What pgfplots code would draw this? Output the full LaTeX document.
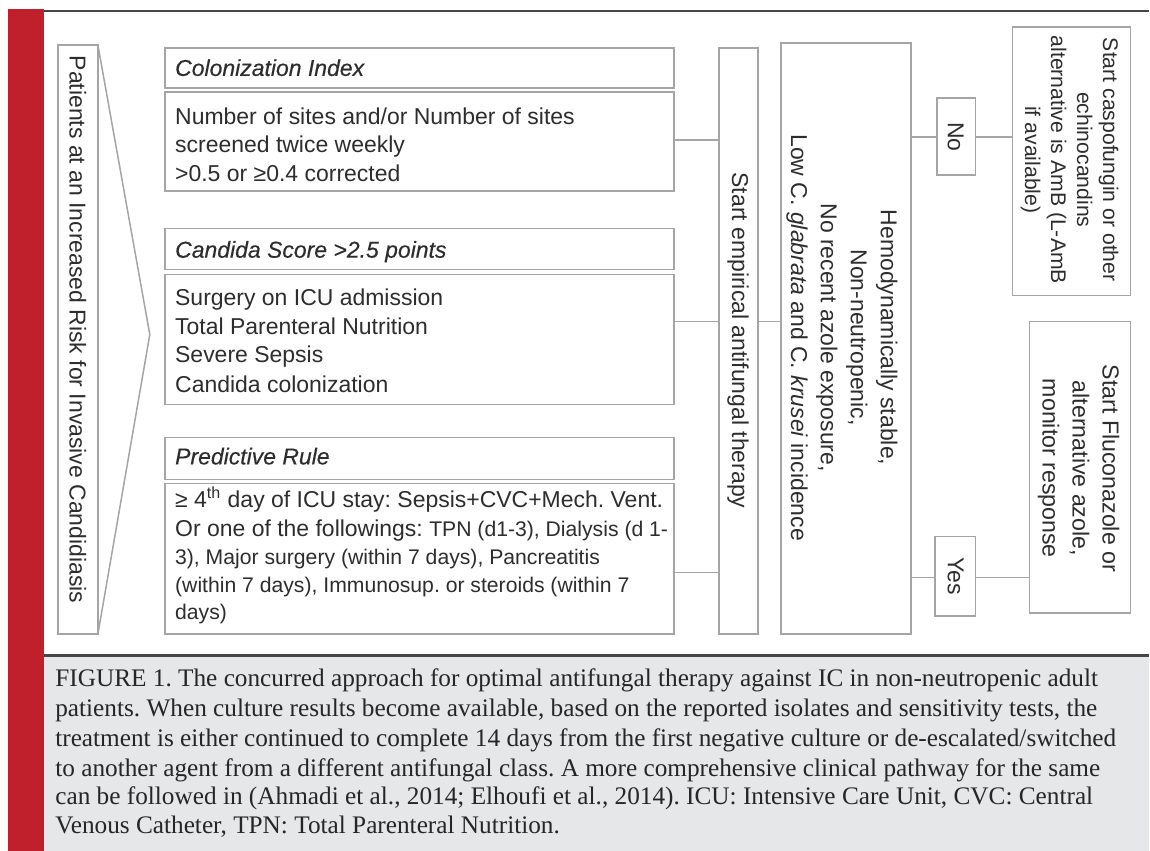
\documentclass[border=0pt]{standalone}
\usepackage{fontspec}
\setmainfont{Liberation Sans}
\newfontfamily\capfont{Liberation Serif}
\newfontfamily\hdrfont[FakeBold=0.3]{Liberation Sans}
\usepackage{pgfplots}
\pgfplotsset{compat=1.18}
\definecolor{redbar}{RGB}{192,32,44}
\definecolor{boxgray}{RGB}{165,165,165}
\definecolor{txt}{RGB}{45,45,45}
\definecolor{capbg}{RGB}{230,231,233}
\definecolor{darkline}{RGB}{70,70,70}
\newcommand{\bodyf}{\fontsize{11.5pt}{14pt}\selectfont}
\newcommand{\smallf}{\fontsize{10.6pt}{13pt}\selectfont}
\frenchspacing
\begin{document}
\begin{tikzpicture}
\begin{axis}[width=575pt,height=426pt,scale only axis,
  xmin=0,xmax=1150,ymin=0,ymax=852,y dir=reverse,
  axis lines=none,ticks=none,clip=false]
\addplot[draw=none] coordinates {(0,0) (1150,852)};
% background
\fill[white] (axis cs:0,0) rectangle (axis cs:1150,852);
\fill[capbg] (axis cs:44,656) rectangle (axis cs:1150,852);
\fill[redbar] (axis cs:8,9) rectangle (axis cs:44,852);
\draw[darkline,line width=0.9pt] (axis cs:44,11) -- (axis cs:1150,11);
\draw[darkline,line width=1.5pt] (axis cs:44,656) -- (axis cs:1150,656);
% boxes
\begin{scope}[boxgray,line width=0.75pt]
\draw (axis cs:58,45) rectangle (axis cs:98,635);
\draw (axis cs:98,45) -- (axis cs:150,335) -- (axis cs:98,635);
\draw (axis cs:165,48) rectangle (axis cs:675,88);
\draw (axis cs:165,92) rectangle (axis cs:675,191);
\draw (axis cs:165,229) rectangle (axis cs:675,270);
\draw (axis cs:165,275) rectangle (axis cs:675,405);
\draw (axis cs:165,438) rectangle (axis cs:675,480);
\draw (axis cs:165,484) rectangle (axis cs:675,635);
\draw (axis cs:720,48) rectangle (axis cs:759,635);
\draw (axis cs:782,43) rectangle (axis cs:912,635);
\draw (axis cs:938,98) rectangle (axis cs:977,175);
\draw (axis cs:1014,27) rectangle (axis cs:1132,296);
\draw (axis cs:936,537) rectangle (axis cs:977,617);
\draw (axis cs:1031,322) rectangle (axis cs:1132,614);
\draw (axis cs:675,140) -- (axis cs:720,140);
\draw (axis cs:675,322) -- (axis cs:720,322);
\draw (axis cs:675,573) -- (axis cs:720,573);
\draw (axis cs:759,322) -- (axis cs:782,322);
\draw (axis cs:912,137) -- (axis cs:938,137);
\draw (axis cs:977,137) -- (axis cs:1014,137);
\draw (axis cs:912,578) -- (axis cs:936,578);
\draw (axis cs:977,578) -- (axis cs:1031,578);
\end{scope}
% texts
\begin{scope}[every node/.style={text=txt,inner sep=0pt}]
\node[rotate=-90] at (axis cs:78,330) {\bodyf Patients at an Increased Risk for Invasive Candidiasis};
\node[anchor=base west] at (axis cs:175,76) {\bodyf\hdrfont\itshape Colonization Index};
\node[anchor=base west] at (axis cs:175,125) {\bodyf Number of sites and/or Number of sites};
\node[anchor=base west] at (axis cs:175,153) {\bodyf screened twice weekly};
\node[anchor=base west] at (axis cs:175,182) {\bodyf >0.5 or ≥0.4 corrected};
\node[anchor=base west] at (axis cs:175,258) {\bodyf\hdrfont\itshape Candida Score >2.5 points};
\node[anchor=base west] at (axis cs:175,306) {\bodyf Surgery on ICU admission};
\node[anchor=base west] at (axis cs:175,335) {\bodyf Total Parenteral Nutrition};
\node[anchor=base west] at (axis cs:175,363) {\bodyf Severe Sepsis};
\node[anchor=base west] at (axis cs:175,393) {\bodyf Candida colonization};
\node[anchor=base west] at (axis cs:175,465) {\bodyf\hdrfont\itshape Predictive Rule};
\node[anchor=base west] at (axis cs:175,508) {\bodyf ≥ 4\textsuperscript{th} day of ICU stay: Sepsis+CVC+Mech. Vent.};
\node[anchor=base west] at (axis cs:175,537) {\bodyf Or one of the followings: \smallf TPN (d1-3), Dialysis (d 1-};
\node[anchor=base west] at (axis cs:175,565) {\smallf 3), Major surgery (within 7 days), Pancreatitis};
\node[anchor=base west] at (axis cs:175,593) {\smallf (within 7 days), Immunosup. or steroids (within 7};
\node[anchor=base west] at (axis cs:175,620) {\smallf days)};
\node[rotate=-90] at (axis cs:739,341) {\bodyf Start empirical antifungal therapy};
\node[rotate=-90,align=center,font=\fontsize{11.5pt}{15pt}\selectfont] at (axis cs:843,338)
  {Hemodynamically stable,\\ Non-neutropenic,\\ No recent azole exposure,\\ Low C. \textit{glabrata} and C. \textit{krusei} incidence};
\node[rotate=-90] at (axis cs:957,137) {\bodyf No};
\node[rotate=-90] at (axis cs:957,577) {\bodyf Yes};
\node[rotate=-90,align=center,font=\fontsize{10.6pt}{13pt}\selectfont] at (axis cs:1071,160)
  {Start caspofungin or other\\ echinocandins\\ alternative is AmB (L-AmB\\ if available)};
\node[rotate=-90,align=center,font=\fontsize{11.6pt}{15pt}\selectfont] at (axis cs:1080,469)
  {Start Fluconazole or\\ alternative azole,\\ monitor response};
\end{scope}
\begin{scope}[every node/.style={text=black!85,inner sep=0pt,anchor=base west,font=\capfont\fontsize{12.65pt}{15pt}\selectfont}]
\node at (axis cs:55,687) {FIGURE 1. The concurred approach for optimal antifungal therapy against IC in non-neutropenic adult};
\node at (axis cs:55,717) {patients. When culture results become available, based on the reported isolates and sensitivity tests, the};
\node at (axis cs:55,747) {treatment is either continued to complete 14 days from the first negative culture or de-escalated/switched};
\node at (axis cs:55,777) {to another agent from a different antifungal class. A more comprehensive clinical pathway for the same};
\node at (axis cs:55,806) {can be followed in (Ahmadi et al., 2014; Elhoufi et al., 2014). ICU: Intensive Care Unit, CVC: Central};
\node at (axis cs:55,835) {Venous Catheter, TPN: Total Parenteral Nutrition.};
\end{scope}
\end{axis}
\end{tikzpicture}
\end{document}
